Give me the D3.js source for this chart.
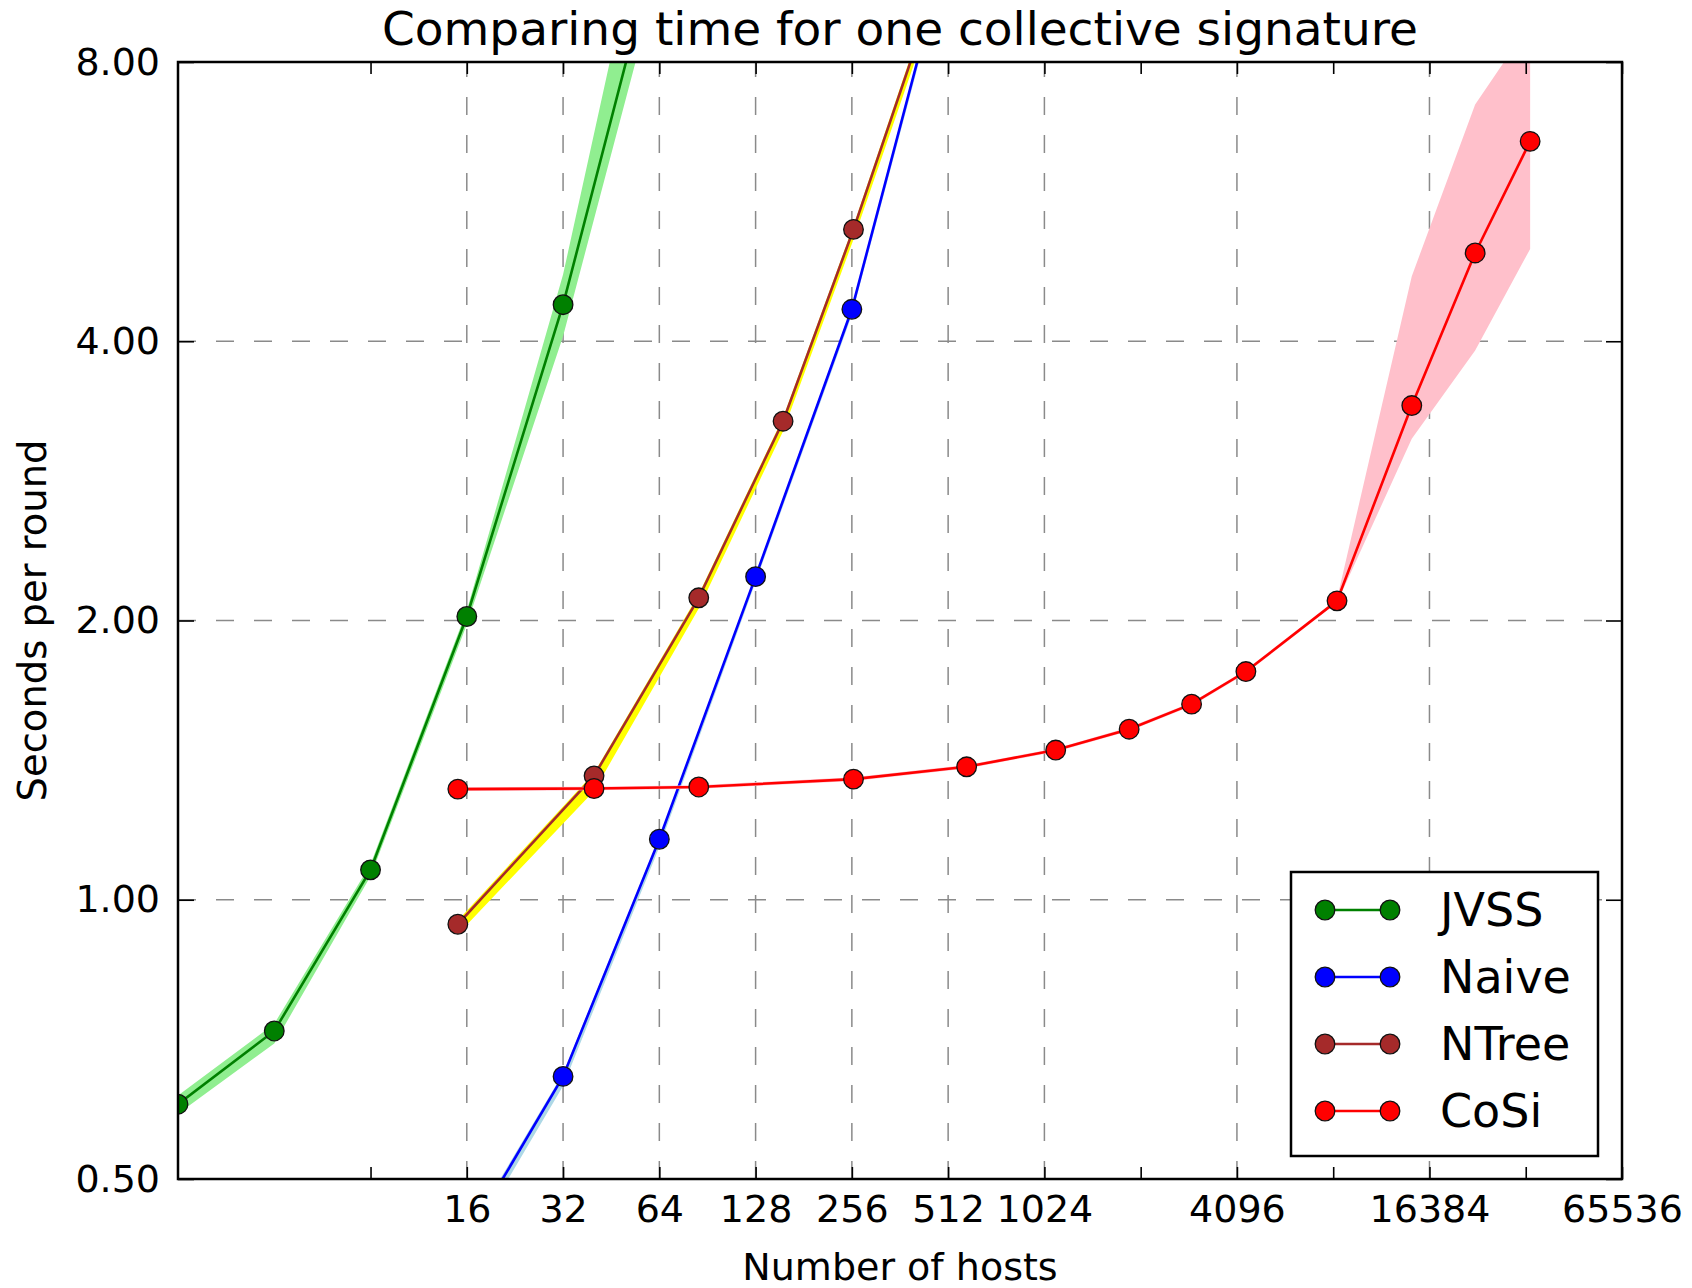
<!DOCTYPE html>
<html>
<head>
<meta charset="utf-8">
<script src="https://cdn.jsdelivr.net/npm/d3@7"></script>
<style>
    body { margin: 0; background: white; }
    text { font-family: "DejaVu Sans", sans-serif; fill: black; }
</style>
</head>
<body>
<div id="vis"></div>
<script>
// values
const seriesNames = ["JVSS", "Naive", "NTree", "CoSi"]

const jvssHosts = [2, 4, 8, 16, 32, 64]
const jvssTime = [0.602, 0.722, 1.077, 2.02, 4.38, 11.0]
const jvssLow = [0.588, 0.700, 1.060, 1.98, 4.05, 10.0]
const jvssHigh = [0.615, 0.735, 1.092, 2.05, 4.72, 14.0]

const naiveHosts = [16, 32, 64, 128, 256, 512]
const naiveTime = [0.43, 0.645, 1.162, 2.23, 4.33, 10.7]
const naiveLow = [0.42, 0.630, 1.140, 2.20, 4.27, 10.5]
const naiveHigh = [0.435, 0.650, 1.168, 2.24, 4.36, 10.8]

const ntreeHosts = [15, 40, 85, 156, 259, 400]
const ntreeTime = [0.941, 1.36, 2.116, 3.28, 5.28, 8.2]
const ntreeLow = [0.918, 1.31, 2.06, 3.20, 5.15, 7.95]
const ntreeHigh = [0.950, 1.37, 2.135, 3.31, 5.33, 8.3]

const cosiHosts = [15, 40, 85, 259, 585, 1111, 1885, 2955, 4369, 8421, 14425, 22765, 33825]
const cosiTime = [1.316, 1.318, 1.323, 1.349, 1.391, 1.450, 1.527, 1.625, 1.762, 2.10, 3.41, 4.98, 6.57]
const cosiLow = [1.31, 1.312, 1.317, 1.343, 1.385, 1.444, 1.52, 1.618, 1.754, 2.09, 3.14, 3.91, 5.03]
const cosiHigh = [1.322, 1.324, 1.329, 1.355, 1.397, 1.456, 1.534, 1.632, 1.770, 2.11, 4.70, 7.2, 8.8]

const xTickValues = [8, 16, 32, 64, 128, 256, 512, 1024, 2048, 4096, 8192, 16384, 32768, 65536]
const xTickLabels = [16, 32, 64, 128, 256, 512, 1024, 4096, 16384, 65536]
const xGridValues = [16, 32, 64, 128, 256, 512, 1024, 4096, 16384]
const yTickValues = [0.5, 1, 2, 4, 8]

const width = 1692
const height = 1288
const plotLeft = 178
const plotRight = 1622
const plotTop = 62
const plotBottom = 1179

const lineColours = ["#008000", "#0000ff", "#a52a2a", "#ff0000"]
const bandColours = ["#90ee90", "#add8e6", "#ffff00", "#ffc0cb"]

const toRows = (hosts, time, low, high) => hosts.map((n, i) => ({ n: n, t: time[i], lo: low[i], hi: high[i] }))
const series = [
    toRows(jvssHosts, jvssTime, jvssLow, jvssHigh),
    toRows(naiveHosts, naiveTime, naiveLow, naiveHigh),
    toRows(ntreeHosts, ntreeTime, ntreeLow, ntreeHigh),
    toRows(cosiHosts, cosiTime, cosiLow, cosiHigh),
]

const svg = d3.select("#vis")
    .append("svg")
    .attr("width", width)
    .attr("height", height)

svg.append("rect")
    .attr("width", width)
    .attr("height", height)
    .attr("fill", "white")

const xScale = d3.scaleLog().base(2).domain([2, 65536]).range([plotLeft, plotRight])
const yScale = d3.scaleLog().base(2).domain([0.5, 8]).range([plotBottom, plotTop])

svg.append("clipPath")
    .attr("id", "plot-clip")
    .append("rect")
        .attr("x", plotLeft)
        .attr("y", plotTop)
        .attr("width", plotRight - plotLeft)
        .attr("height", plotBottom - plotTop)

// grid
const grid = svg.append("g")
    .attr("stroke", "#8a8a8a")
    .attr("stroke-width", 1.5)
    .attr("stroke-dasharray", "18,20")

grid.selectAll("line.vgrid")
    .data(xGridValues)
    .join("line")
        .attr("class", "vgrid")
        .attr("x1", d => xScale(d))
        .attr("x2", d => xScale(d))
        .attr("y1", plotBottom)
        .attr("y2", plotTop)

grid.selectAll("line.hgrid")
    .data(yTickValues.slice(1, -1))
    .join("line")
        .attr("class", "hgrid")
        .attr("x1", plotLeft)
        .attr("x2", plotRight)
        .attr("y1", d => yScale(d))
        .attr("y2", d => yScale(d))

// data
const plot = svg.append("g").attr("clip-path", "url(#plot-clip)")

const band = d3.area()
    .x(d => xScale(d.n))
    .y0(d => yScale(d.lo))
    .y1(d => yScale(d.hi))

const line = d3.line()
    .x(d => xScale(d.n))
    .y(d => yScale(d.t))

series.forEach((rows, i) => {
    plot.append("path")
        .datum(rows)
        .attr("d", band)
        .attr("fill", bandColours[i])
        .attr("stroke", "none")

    plot.append("path")
        .datum(rows)
        .attr("d", line)
        .attr("fill", "none")
        .attr("stroke", lineColours[i])
        .attr("stroke-width", 2.6)

    plot.selectAll("circle.s" + i)
        .data(rows)
        .join("circle")
            .attr("class", "s" + i)
            .attr("cx", d => xScale(d.n))
            .attr("cy", d => yScale(d.t))
            .attr("r", 9.8)
            .attr("fill", lineColours[i])
            .attr("stroke", "#111")
            .attr("stroke-width", 1.3)
})

// axes
const styleTicks = g => {
    g.select(".domain").remove()
    g.selectAll(".tick line").attr("stroke", "black").attr("stroke-width", 1.6)
    g.selectAll(".tick text")
        .attr("font-family", "DejaVu Sans")
        .attr("font-size", 38)
        .attr("fill", "black")
}

svg.append("g")
    .attr("transform", `translate(0, ${plotBottom})`)
    .call(d3.axisBottom(xScale)
        .tickValues(xTickValues)
        .tickSize(-12)
        .tickPadding(16)
        .tickFormat(d => xTickLabels.includes(d) ? d : ""))
    .call(styleTicks)

svg.append("g")
    .attr("transform", `translate(0, ${plotTop})`)
    .call(d3.axisTop(xScale)
        .tickValues(xTickValues)
        .tickSize(-12)
        .tickFormat(""))
    .call(styleTicks)

svg.append("g")
    .attr("transform", `translate(${plotLeft}, 0)`)
    .call(d3.axisLeft(yScale)
        .tickValues(yTickValues)
        .tickSize(-16)
        .tickPadding(18)
        .tickFormat(d3.format(".2f")))
    .call(styleTicks)

svg.append("g")
    .attr("transform", `translate(${plotRight}, 0)`)
    .call(d3.axisRight(yScale)
        .tickValues(yTickValues)
        .tickSize(-16)
        .tickFormat(""))
    .call(styleTicks)

svg.append("rect")
    .attr("x", plotLeft)
    .attr("y", plotTop)
    .attr("width", plotRight - plotLeft)
    .attr("height", plotBottom - plotTop)
    .attr("fill", "none")
    .attr("stroke", "black")
    .attr("stroke-width", 2.5)

// titles
svg.append("text")
    .attr("x", (plotLeft + plotRight) / 2)
    .attr("y", 45)
    .attr("text-anchor", "middle")
    .attr("font-size", 47)
    .text("Comparing time for one collective signature")

svg.append("text")
    .attr("x", (plotLeft + plotRight) / 2)
    .attr("y", 1280)
    .attr("text-anchor", "middle")
    .attr("font-size", 38)
    .text("Number of hosts")

svg.append("text")
    .attr("transform", `translate(46, ${(plotTop + plotBottom) / 2}) rotate(-90)`)
    .attr("text-anchor", "middle")
    .attr("font-size", 38.5)
    .text("Seconds per round")

// legend
const legend = svg.append("g")

legend.append("rect")
    .attr("x", 1291)
    .attr("y", 872)
    .attr("width", 307)
    .attr("height", 284)
    .attr("fill", "white")
    .attr("stroke", "black")
    .attr("stroke-width", 2.5)

const rowY = (d, i) => 910 + i * 67

legend.selectAll("line.legend-line")
    .data(seriesNames)
    .join("line")
        .attr("class", "legend-line")
        .attr("x1", 1325)
        .attr("x2", 1390)
        .attr("y1", rowY)
        .attr("y2", rowY)
        .attr("stroke", (d, i) => lineColours[i])
        .attr("stroke-width", 2.6)

;[1325, 1390].forEach(cx => {
    legend.selectAll("circle.legend-dot-" + cx)
        .data(seriesNames)
        .join("circle")
            .attr("class", "legend-dot-" + cx)
            .attr("cx", cx)
            .attr("cy", rowY)
            .attr("r", 9.8)
            .attr("fill", (d, i) => lineColours[i])
            .attr("stroke", "#111")
            .attr("stroke-width", 1.3)
})

legend.selectAll("text.legend-label")
    .data(seriesNames)
    .join("text")
        .attr("class", "legend-label")
        .attr("x", 1440)
        .attr("y", rowY)
        .attr("dy", "0.35em")
        .attr("font-size", 46)
        .text(d => d)
</script>
</body>
</html>
